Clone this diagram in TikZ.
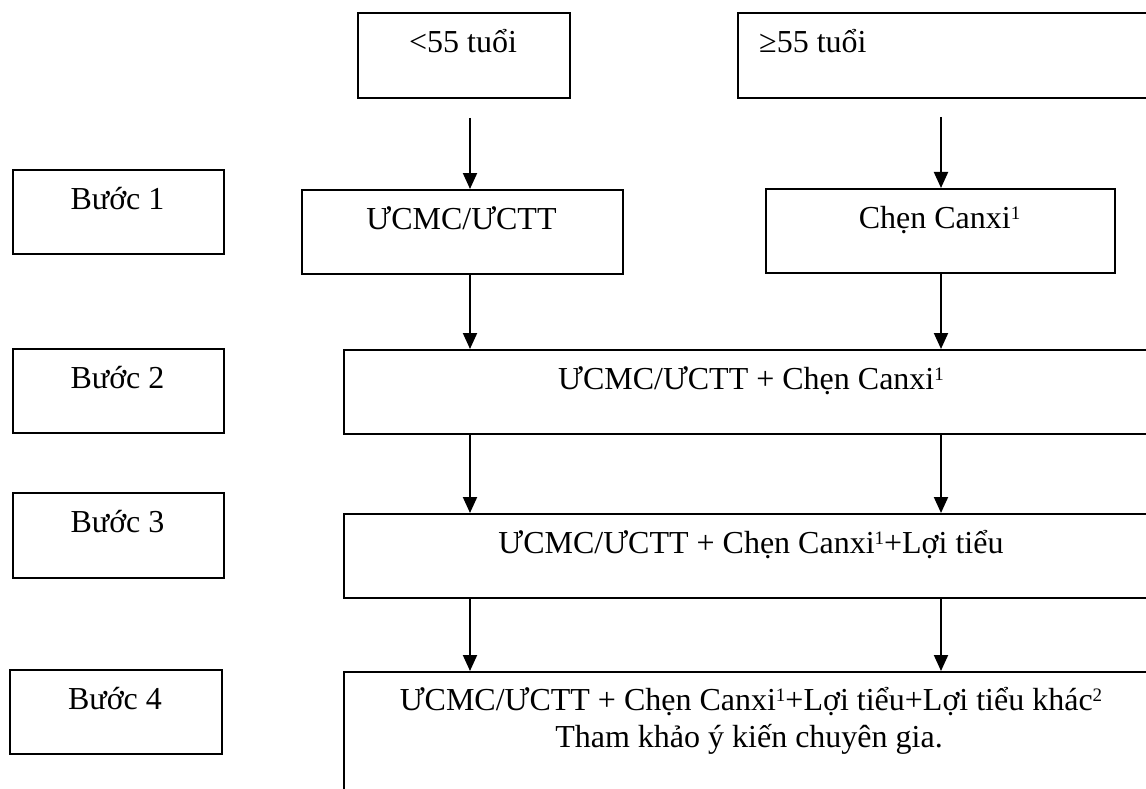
\documentclass[tikz,border=0pt]{standalone}
\usepackage{fontspec}
\setmainfont{Liberation Serif}
\usetikzlibrary{arrows.meta}
% small raised numeral for footnote marks
\newcommand{\supnum}[1]{\raisebox{9pt}{\fontsize{19}{19}\selectfont #1}}
\begin{document}
\begin{tikzpicture}[x=1pt,y=-1pt,
  box/.style={draw,line width=2pt,rectangle,inner sep=0pt,anchor=north west},
  lbl/.style={font=\fontsize{32}{37}\selectfont,inner sep=0pt,anchor=base},
  arr/.style={line width=2pt,-{Triangle[length=16pt,width=14pt]}}]
\useasboundingbox (0,0) rectangle (1146,789);
\clip (0,0) rectangle (1146,789);
\fill[white] (0,0) rectangle (1146,789);

% arrow columns
\coordinate (cl) at (470,0);
\coordinate (cr) at (941,0);

% age groups
\node[box,minimum width=212pt,minimum height=85pt] (young) at (357,12) {};
\node[box,minimum width=443pt,minimum height=85pt] (old) at (737,12) {};
\node[lbl] (youngT) at (463,53) {<55 tuổi};
\node[lbl,anchor=base west] (oldT) at (759,53) {≥55 tuổi};

% step labels
\node[box,minimum width=211pt,minimum height=84pt] (s1) at (12,169) {};
\node[box,minimum width=211pt,minimum height=84pt] (s2) at (12,348) {};
\node[box,minimum width=211pt,minimum height=85pt] (s3) at (12,492) {};
\node[box,minimum width=212pt,minimum height=84pt] (s4) at (9,669) {};
\node[lbl] (s1T) at (117.5,209) {Bước 1};
\node[lbl] (s2T) at (117.5,388) {Bước 2};
\node[lbl] (s3T) at (117.5,532) {Bước 3};
\node[lbl] (s4T) at (115,709) {Bước 4};

% step 1 treatments
\node[box,minimum width=321pt,minimum height=84pt] (acei) at (301,189) {};
\node[box,minimum width=349pt,minimum height=84pt] (ccb) at (765,188) {};
\node[lbl] (aceiT) at (461.5,229) {ƯCMC/ƯCTT};
\node[lbl] (ccbT) at (939.5,228) {Chẹn Canxi\supnum{1}};

% combined treatments
\node[box,minimum width=816pt,minimum height=84pt] (c2) at (343,349) {};
\node[box,minimum width=816pt,minimum height=84pt] (c3) at (343,513) {};
\node[box,minimum width=816pt,minimum height=180pt] (c4) at (343,671) {};
\node[lbl] (c2T) at (751,389) {ƯCMC/ƯCTT + Chẹn Canxi\supnum{1}};
\node[lbl] (c3T) at (751,553) {ƯCMC/ƯCTT + Chẹn Canxi\supnum{1}+Lợi tiểu};
\node[lbl] (c4T) at (751,710) {ƯCMC/ƯCTT + Chẹn Canxi\supnum{1}+Lợi tiểu+Lợi tiểu khác\supnum{2}};
\node[lbl] (c4U) at (749,747) {Tham khảo ý kiến chuyên gia.};

% connectors
\draw[arr,shorten <=19pt] (young.south -| cl) -- (acei.north -| cl);
\draw[arr,shorten <=18pt] (old.south -| cr) -- (ccb.north -| cr);
\draw[arr] (acei.south -| cl) -- (c2.north -| cl);
\draw[arr] (ccb.south -| cr) -- (c2.north -| cr);
\draw[arr] (c2.south -| cl) -- (c3.north -| cl);
\draw[arr] (c2.south -| cr) -- (c3.north -| cr);
\draw[arr] (c3.south -| cl) -- (c4.north -| cl);
\draw[arr] (c3.south -| cr) -- (c4.north -| cr);
\end{tikzpicture}
\end{document}
